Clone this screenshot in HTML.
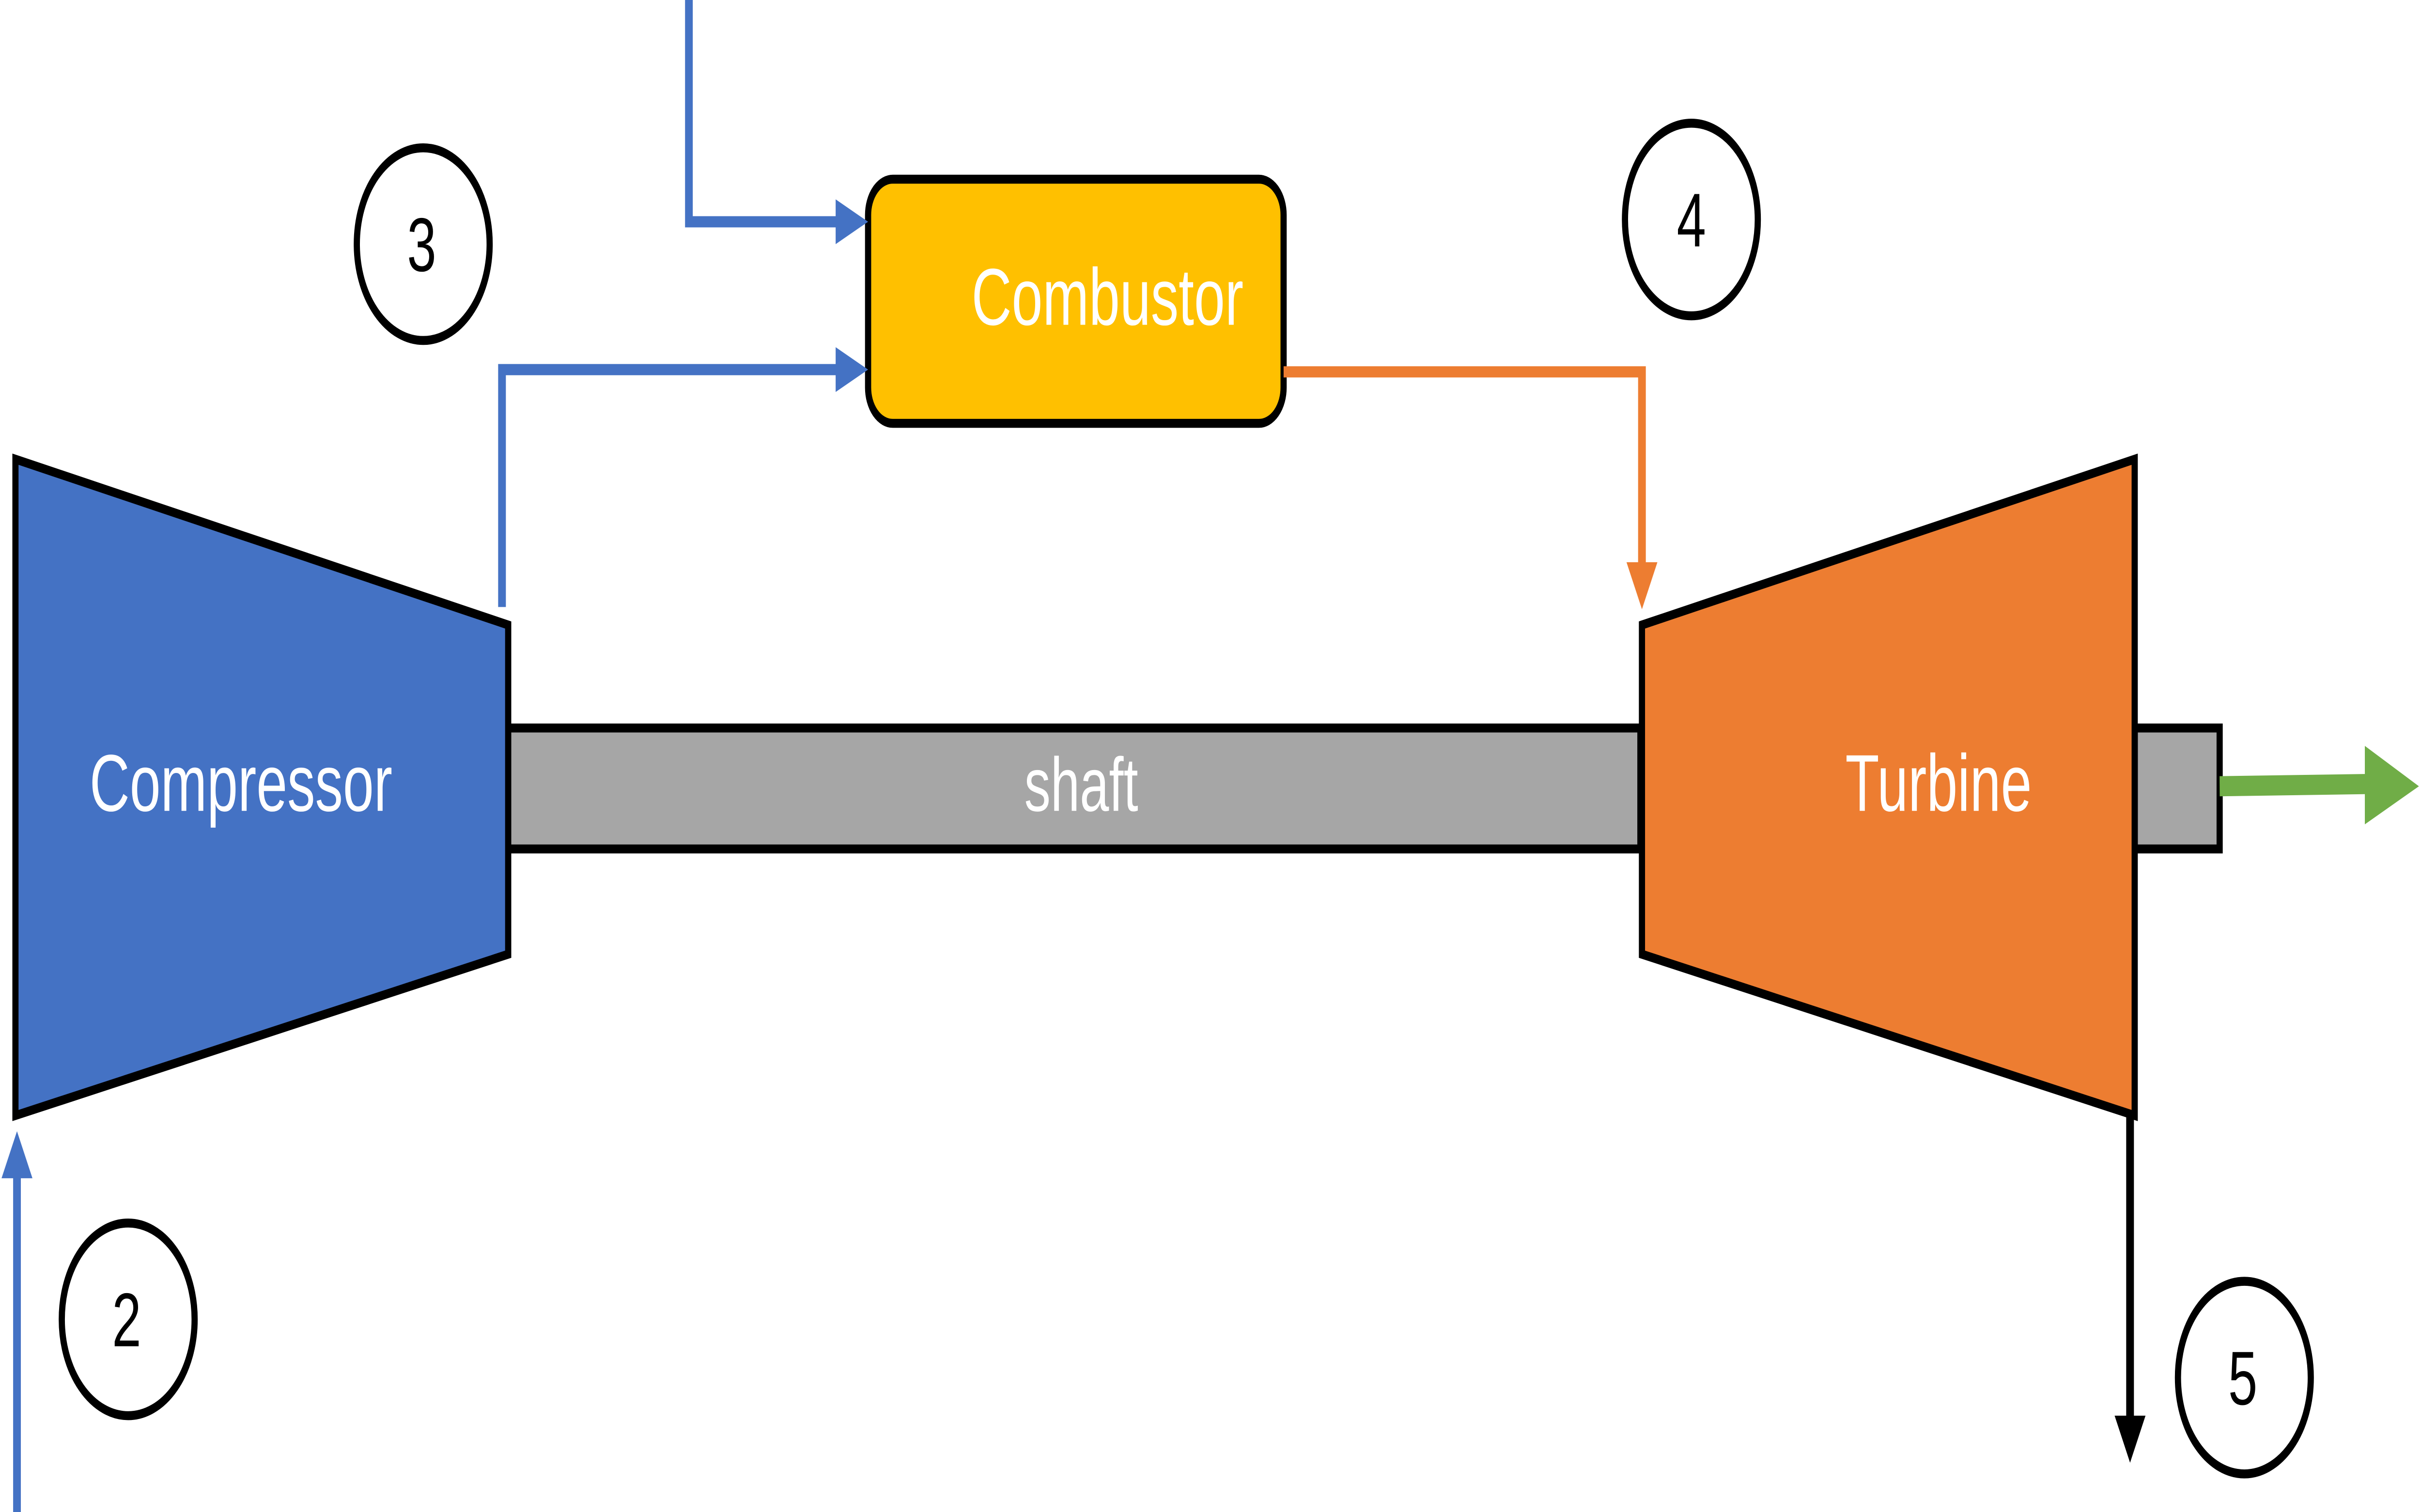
<!DOCTYPE html>
<html><head><meta charset="utf-8"><style>
html,body{margin:0;padding:0;background:#fff;width:100%;height:100%;overflow:hidden;}
svg{display:block;width:100vw;height:100vh;}
</style></head><body>
<svg viewBox="0 0 1568 675" preserveAspectRatio="none" xmlns="http://www.w3.org/2000/svg" font-family="Liberation Sans, Arial, sans-serif">
<rect width="1568" height="675" fill="#fff"/>
<rect x="329" y="325" width="733" height="54" fill="#A6A6A6" stroke="#000" stroke-width="4"/>
<rect x="1382" y="325" width="55" height="54" fill="#A6A6A6" stroke="#000" stroke-width="4"/>
<text x="700" y="362" font-size="34" fill="#fff" text-anchor="middle">shaft</text>
<polygon points="10,205 329,279 329,426 10,498" fill="#4472C4" stroke="#000" stroke-width="4"/>
<text x="156" y="362" font-size="36" fill="#fff" text-anchor="middle">Compressor</text>
<polygon points="1063,279 1382,205 1382,498 1063,426" fill="#ED7D31" stroke="#000" stroke-width="4"/>
<text x="1255" y="362" font-size="36" fill="#fff" text-anchor="middle">Turbine</text>
<rect x="562" y="80" width="269" height="109" rx="16" fill="#FFC000" stroke="#000" stroke-width="4"/>
<text x="717" y="145" font-size="36" fill="#fff" text-anchor="middle">Combustor</text>
<polyline points="446,0 446,99 546,99" fill="none" stroke="#4472C4" stroke-width="5"/>
<polygon points="541,89 562,99 541,109" fill="#4472C4"/>
<polyline points="325,271 325,165 546,165" fill="none" stroke="#4472C4" stroke-width="5"/>
<polygon points="541,155 562,165 541,175" fill="#4472C4"/>
<line x1="11" y1="675" x2="11" y2="522" stroke="#4472C4" stroke-width="5"/>
<polygon points="1,526 11,505 21,526" fill="#4472C4"/>
<polyline points="831,166 1063,166 1063,256" fill="none" stroke="#ED7D31" stroke-width="5"/>
<polygon points="1053,251 1063,272 1073,251" fill="#ED7D31"/>
<line x1="1379" y1="498" x2="1379" y2="636" stroke="#000" stroke-width="5"/>
<polygon points="1369,632 1379,653 1389,632" fill="#000"/>
<line x1="1437" y1="351" x2="1534" y2="350" stroke="#70AD47" stroke-width="9"/>
<polygon points="1531,333 1566,351 1531,368" fill="#70AD47"/>
<g fill="#fff" stroke="#000" stroke-width="4">
<circle cx="274" cy="109" r="43"/>
<circle cx="1095" cy="98" r="43"/>
<circle cx="83" cy="589" r="43"/>
<circle cx="1453" cy="615" r="43"/>
</g>
<g font-size="34" fill="#000" text-anchor="middle">
<text x="273" y="121">3</text>
<text x="1095" y="110">4</text>
<text x="82" y="601">2</text>
<text x="1452" y="627">5</text>
</g>
</svg>
</body></html>
